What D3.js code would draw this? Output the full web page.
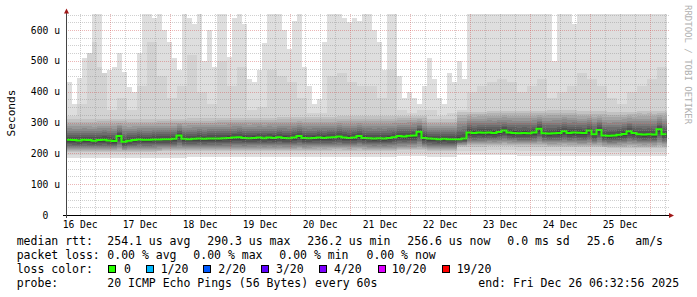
<!DOCTYPE html>
<html>
<head>
<meta charset="utf-8">
<script src="https://cdn.jsdelivr.net/npm/d3@7"></script>
<style>
  html, body { margin: 0; padding: 0; background: #fff; }
  svg { display: block; }
  text { font-family: "DejaVu Sans Mono", monospace; }
</style>
</head>
<body>
<div id="chart"></div>
<script>
const width = 697;
const height = 297;

// time window: last 10 days ending at the probe's "end" stamp
const endTime = Date.UTC(2025, 11, 26, 6, 32, 56);
const startTime = endTime - 10 * 24 * 3600 * 1000;

// median rtt (us), one value per 2 hours
const medianRtt = [
  244, 243, 242, 244, 243, 241, 243, 244, 242, 240,
  256, 238, 241, 243, 245, 244, 244, 245, 245, 246,
  246, 247, 258, 247, 246, 247, 248, 247, 248, 248,
  248, 249, 250, 251, 252, 250, 249, 250, 251, 249,
  251, 250, 252, 250, 249, 251, 256, 250, 249, 250,
  251, 250, 251, 252, 255, 251, 250, 251, 256, 250,
  249, 248, 249, 248, 250, 252, 256, 255, 257, 258,
  270, 250, 248, 247, 246, 247, 246, 246, 246, 248,
  268, 266, 268, 267, 268, 266, 269, 274, 268, 266,
  265, 266, 265, 268, 280, 265, 264, 265, 266, 272,
  266, 268, 267, 266, 274, 262, 276, 258, 257, 258,
  260, 263, 272, 266, 262, 261, 262, 261, 278, 262
];

// largest ping per 2 hours (us, graph is clipped at the top)
const maxRtt = [
  432, 360, 444, 509, 525, 652, 652, 460, 470, 480,
  525, 464, 415, 400, 525, 652, 652, 640, 652, 600,
  560, 510, 470, 652, 640, 620, 652, 500, 600, 480,
  652, 652, 512, 640, 652, 620, 440, 430, 470, 557,
  652, 652, 652, 600, 540, 630, 652, 480, 420, 360,
  375, 560, 652, 652, 652, 640, 625, 640, 630, 652,
  652, 600, 560, 470, 652, 652, 450, 380, 400, 380,
  360, 420, 510, 440, 380, 360, 460, 430, 500, 440,
  652, 652, 652, 652, 652, 652, 652, 652, 652, 652,
  652, 652, 652, 652, 652, 652, 652, 500, 652, 652,
  652, 620, 652, 652, 652, 652, 652, 652, 652, 652,
  652, 652, 652, 652, 652, 652, 652, 652, 652, 652
];

// 18th of 20 pings, one value per 4 hours
const upperRtt = [
  320, 360, 560, 480, 340, 380, 340, 420, 560, 450, 380, 420, 520, 400, 360,
  500, 420, 480, 340, 350, 470, 450, 430, 380, 330, 330, 450, 460, 430, 420,
  420, 380, 470, 340, 330, 340, 340, 320, 330, 340, 400, 420, 430, 440, 430,
  400, 420, 440, 380, 400, 420, 460, 440, 420, 380, 360, 400, 420, 440, 480
];

// smallest ping, 3rd ping and 16th ping, one value per 12 hours
const minRtt = [186, 185, 186, 186, 187, 187, 188, 187, 188, 188, 189, 190, 188, 194, 195, 193, 192, 191, 192, 190];
const lowRtt = [205, 204, 205, 206, 207, 207, 208, 208, 209, 209, 208, 210, 206, 222, 224, 222, 221, 219, 218, 218];
const highRtt = [310, 312, 310, 312, 314, 316, 316, 318, 318, 320, 320, 322, 310, 335, 338, 338, 340, 336, 334, 338];

const yTicks = [0, 100, 200, 300, 400, 500, 600];
const yTickLabels = ["0  ", "100 u", "200 u", "300 u", "400 u", "500 u", "600 u"];
const dayLabels = ["16 Dec", "17 Dec", "18 Dec", "19 Dec", "20 Dec", "21 Dec", "22 Dec", "23 Dec", "24 Dec", "25 Dec"];

const lossLabels = ["0", "1/20", "2/20", "3/20", "4/20", "10/20", "19/20"];
const lossColors = ["#26ff00", "#00b8ff", "#0059ff", "#5e00ff", "#7e00ff", "#dd00ff", "#ff0000"];

const svg = d3.select("#chart").append("svg")
  .attr("width", width)
  .attr("height", height);

svg.append("rect").attr("width", width).attr("height", height).attr("fill", "#fff");

const x = d3.scaleUtc()
  .domain([new Date(startTime), new Date(endTime)])
  .range([66.5, 666.5]);

const y = d3.scaleLinear()
  .domain([0, 652])
  .range([215, 14]);

const H = 3600 * 1000;
const n = medianRtt.length;

// per column band values, looking up the coarser arrays
function columns(fn) {
  const pts = d3.range(n).map(i => Object.assign({ t: new Date(startTime + i * 2 * H) }, fn(i)));
  pts.push(Object.assign({}, pts[n - 1], { t: new Date(endTime) }));
  return pts;
}

const area = d3.area()
  .curve(d3.curveStepAfter)
  .x(d => x(d.t))
  .y0(d => y(d.lo))
  .y1(d => y(d.hi));

const smoke = svg.append("g").attr("shape-rendering", "crispEdges");

// outer smoke
smoke.append("path")
  .datum(columns(i => ({ lo: minRtt[Math.floor(i / 6)], hi: maxRtt[i] })))
  .attr("d", area)
  .attr("fill", "#dedede");

smoke.append("path")
  .datum(columns(i => {
    const lo = (minRtt[Math.floor(i / 6)] + lowRtt[Math.floor(i / 6)]) / 2;
    return { lo: lo, hi: Math.min(upperRtt[Math.floor(i / 2)], maxRtt[i]) };
  }))
  .attr("d", area)
  .attr("fill", "#d2d2d2");

// inner smoke, darker towards the median
const layers = 10;
const shade = d3.interpolateRgb("#c2c2c2", "#444444");
d3.range(layers).forEach(k => {
  const f = 1 - k / layers;
  const up = Math.pow(f, 1.15);
  const down = Math.pow(f, 0.8);
  smoke.append("path")
    .datum(columns(i => {
      const m = medianRtt[i];
      const lo = lowRtt[Math.floor(i / 6)];
      const hi = Math.min(highRtt[Math.floor(i / 6)], upperRtt[Math.floor(i / 2)]);
      return { lo: m - (m - lo) * down, hi: m + (hi - m) * up };
    }))
    .attr("d", area)
    .attr("fill", shade(k / (layers - 1)));
});

// median line
svg.append("path")
  .datum(columns(i => ({ v: medianRtt[i] })))
  .attr("d", d3.line().curve(d3.curveStepAfter).x(d => x(d.t)).y(d => y(d.v)))
  .attr("fill", "none")
  .attr("stroke", lossColors[0])
  .attr("stroke-width", 2);

// grid
const grid = svg.append("g").attr("shape-rendering", "crispEdges");
const dayStarts = d3.utcDay.range(new Date(startTime), new Date(endTime));
const sixHours = d3.utcHour.every(6).range(new Date(startTime), new Date(endTime))
  .filter(d => d.getUTCHours() !== 0);
const minorColor = "rgba(140,140,140,0.42)";
const majorColor = "rgba(210,80,80,0.42)";

grid.selectAll(".hminor")
  .data(d3.range(25, 652, 25).filter(v => v % 100 !== 0))
  .join("line")
  .attr("x1", 66).attr("x2", 669)
  .attr("y1", d => Math.round(y(d)) + 0.5).attr("y2", d => Math.round(y(d)) + 0.5)
  .attr("stroke", minorColor)
  .attr("stroke-dasharray", "1,1");

grid.selectAll(".vminor")
  .data(sixHours)
  .join("line")
  .attr("x1", d => Math.round(x(d)) + 0.5).attr("x2", d => Math.round(x(d)) + 0.5)
  .attr("y1", 14).attr("y2", 215)
  .attr("stroke", minorColor)
  .attr("stroke-dasharray", "1,1");

grid.selectAll(".hmajor")
  .data(yTicks.slice(1))
  .join("line")
  .attr("x1", 66).attr("x2", 669)
  .attr("y1", d => Math.round(y(d)) + 0.5).attr("y2", d => Math.round(y(d)) + 0.5)
  .attr("stroke", majorColor)
  .attr("stroke-dasharray", "1,1");

grid.selectAll(".vmajor")
  .data(dayStarts)
  .join("line")
  .attr("x1", d => Math.round(x(d)) + 0.5).attr("x2", d => Math.round(x(d)) + 0.5)
  .attr("y1", 14).attr("y2", 215)
  .attr("stroke", majorColor)
  .attr("stroke-dasharray", "1,1");

// axes
svg.append("line")
  .attr("x1", 63).attr("x2", 669).attr("y1", 215.5).attr("y2", 215.5)
  .attr("stroke", "#000").attr("shape-rendering", "crispEdges");
svg.append("line")
  .attr("x1", 66.5).attr("x2", 66.5).attr("y1", 218).attr("y2", 12)
  .attr("stroke", "#444").attr("shape-rendering", "crispEdges");
svg.append("path").attr("d", "M64,13.5L69,13.5L66.5,8.5Z").attr("fill", "#a01818");
svg.append("path").attr("d", "M669,213L669,218L674,215.5Z").attr("fill", "#a01818");

// tick labels
svg.selectAll(".ylab")
  .data(yTicks)
  .join("text")
  .attr("x", 60)
  .attr("y", d => y(d) + 3.5)
  .attr("text-anchor", "end")
  .attr("font-size", "9.7px")
  .attr("fill", "#000")
  .style("white-space", "pre")
  .text((d, i) => yTickLabels[i]);

const firstDay = d3.utcDay.floor(new Date(startTime));
svg.selectAll(".xlab")
  .data(dayLabels)
  .join("text")
  .attr("x", (d, i) => x(new Date(+firstDay + i * 24 * H + 12 * H)))
  .attr("y", 228)
  .attr("text-anchor", "middle")
  .attr("font-size", "9.7px")
  .attr("fill", "#000")
  .text(d => d);

svg.append("text")
  .attr("transform", "translate(15,113) rotate(-90)")
  .attr("text-anchor", "middle")
  .attr("font-size", "11.1px")
  .attr("fill", "#000")
  .text("Seconds");

svg.append("text")
  .attr("transform", "translate(685,5) rotate(90)")
  .attr("font-size", "9px")
  .attr("fill", "#b0b0b0")
  .text("RRDTOOL / TOBI OETIKER");

// legend
const legendRows = [
  { y: 245, items: [[16.7, "median rtt:"], [107.3, "254.1 us avg"], [207.3, "290.3 us max"], [307.3, "236.2 us min"], [407.3, "256.6 us now"], [507.3, "0.0 ms sd"], [586.7, "25.6"], [635.3, "am/s"]] },
  { y: 259, items: [[16.7, "packet loss:"], [107.3, "0.00 % avg"], [193.3, "0.00 % max"], [279.3, "0.00 % min"], [366.5, "0.00 % now"]] },
  { y: 273, items: [[16.7, "loss color:"]] },
  { y: 287, items: [[16.7, "probe:"], [107.3, "20 ICMP Echo Pings (56 Bytes) every 60s"], [478.3, "end: Fri Dec 26 06:32:56 2025"]] }
];

legendRows.forEach(row => {
  svg.append("g").selectAll("text")
    .data(row.items)
    .join("text")
    .attr("x", d => d[0])
    .attr("y", row.y)
    .attr("font-size", "11.5px")
    .attr("fill", "#000")
    .text(d => d[1]);
});

const boxX = [108.3, 146, 203.3, 261, 319.3, 377.7, 442];
const labX = [124, 160.7, 218.3, 276, 334, 391.7, 456.7];
const lossG = svg.append("g");
lossG.selectAll("rect")
  .data(lossColors)
  .join("rect")
  .attr("x", (d, i) => boxX[i] + 0.5)
  .attr("y", 265.5)
  .attr("width", 7)
  .attr("height", 7)
  .attr("fill", d => d)
  .attr("stroke", "#000")
  .attr("stroke-width", 1)
  .attr("shape-rendering", "crispEdges");
lossG.selectAll("text")
  .data(lossLabels)
  .join("text")
  .attr("x", (d, i) => labX[i])
  .attr("y", 273)
  .attr("font-size", "11.5px")
  .attr("fill", "#000")
  .text(d => d);
</script>
</body>
</html>
